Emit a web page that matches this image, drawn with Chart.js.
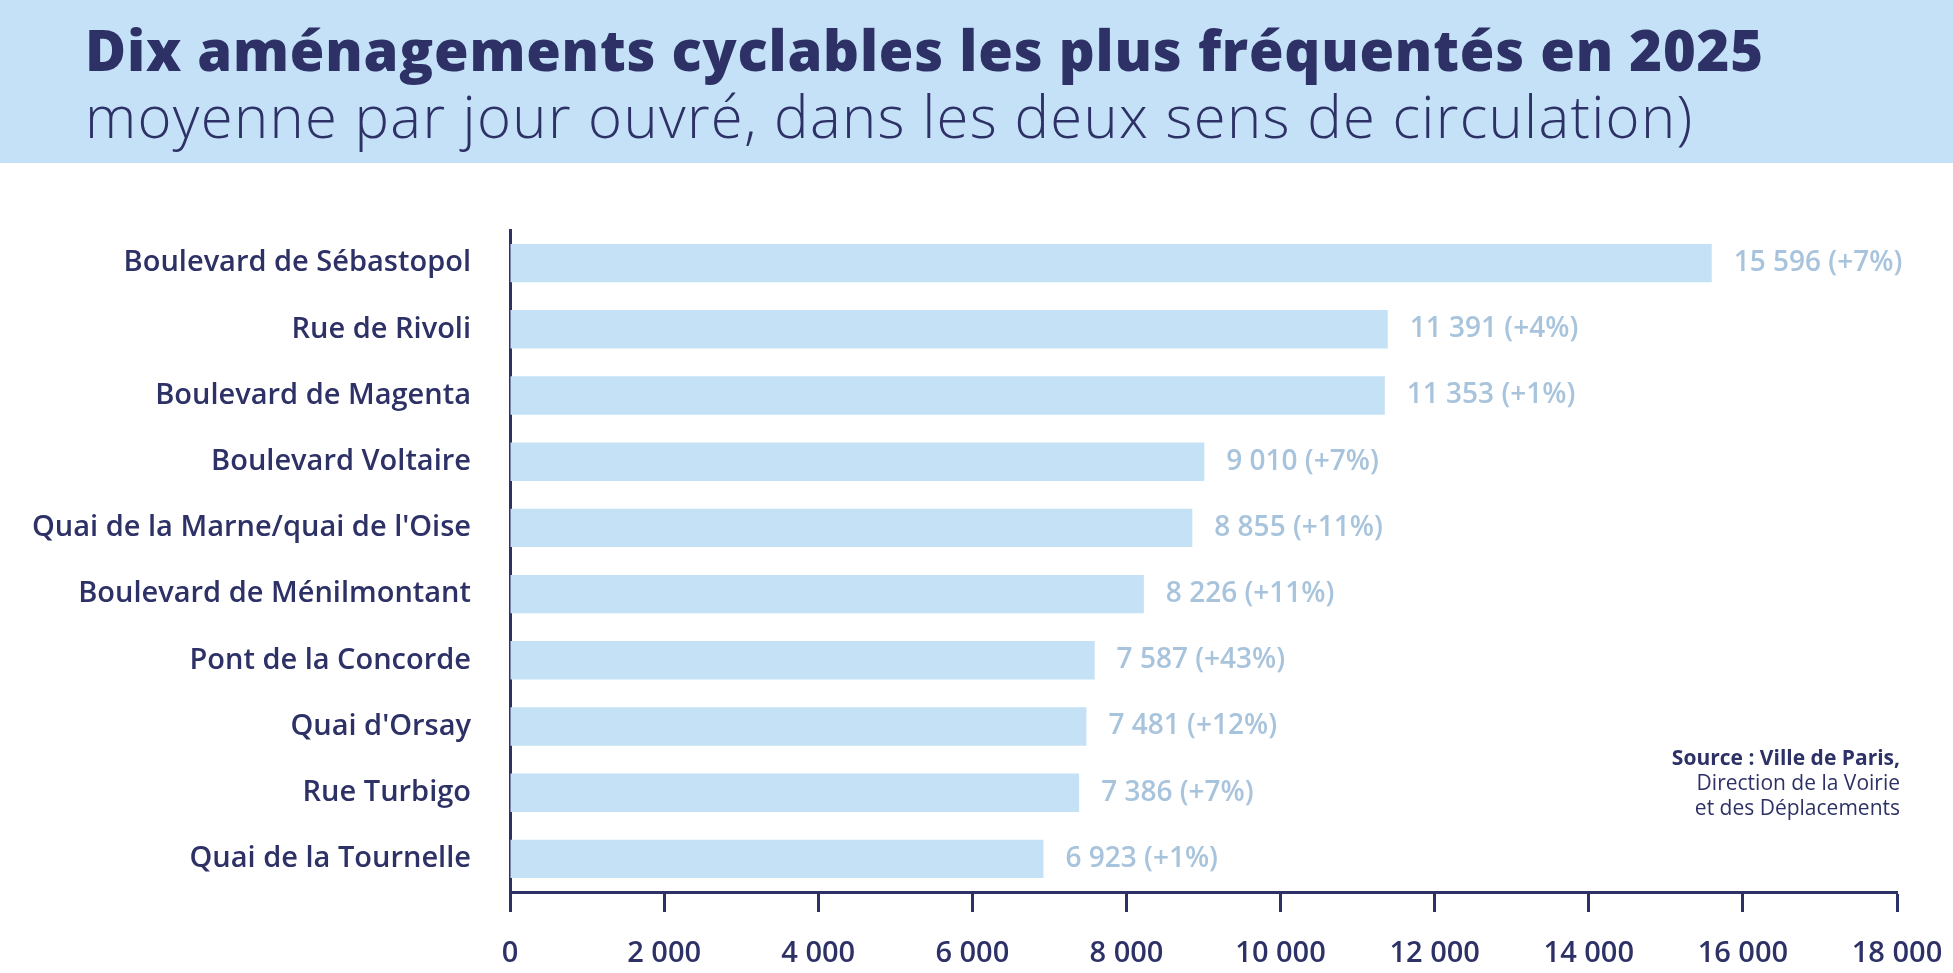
<!DOCTYPE html>
<html lang="fr">
<head>
  <meta charset="UTF-8">
  <title>Dix aménagements cyclables les plus fréquentés en 2025</title>
  <script src="https://cdn.jsdelivr.net/npm/chart.js"></script>
  <style>
    html, body { margin: 0; padding: 0; background: #fff; }
    canvas { display: block; }
  </style>
</head>
<body>

<canvas id="cyclesChart" width="1953" height="973"></canvas>

<script>
  // Données (moyenne par jour ouvré, deux sens confondus)
  const categories = [
    'Boulevard de Sébastopol',
    'Rue de Rivoli',
    'Boulevard de Magenta',
    'Boulevard Voltaire',
    "Quai de la Marne/quai de l'Oise",
    'Boulevard de Ménilmontant',
    'Pont de la Concorde',
    "Quai d'Orsay",
    'Rue Turbigo',
    'Quai de la Tournelle'
  ];
  const passages = [15596, 11391, 11353, 9010, 8855, 8226, 7587, 7481, 7386, 6923];
  const evolution = ['+7%', '+4%', '+1%', '+7%', '+11%', '+11%', '+43%', '+12%', '+7%', '+1%'];
  const xMin = 0, xMax = 18000, xStep = 2000;

  const titleText = 'Dix aménagements cyclables les plus fréquentés en 2025';
  const subtitleText = 'moyenne par jour ouvré, dans les deux sens de circulation)';
  const sourceLines = ['Source : Ville de Paris,', 'Direction de la Voirie', 'et des Déplacements'];

  const NAVY = '#2d3166';
  const BAR = '#c5e1f6';
  const LABEL = '#a8c4dc';
  const FONT = '"Open Sans", "Noto Sans", sans-serif';

  // "15596" -> "15 596"
  const fmt = v => String(v).replace(/\B(?=(\d{3})+(?!\d))/g, ' ');

  // bandeau de titre + source
  const decor = {
    id: 'decor',
    beforeDraw(chart) {
      const ctx = chart.ctx;
      ctx.save();
      ctx.fillStyle = '#c5e1f7';
      ctx.fillRect(0, 0, chart.width, 163);
      ctx.restore();
    },
    afterDraw(chart) {
      const ctx = chart.ctx;
      ctx.save();
      ctx.fillStyle = NAVY;
      ctx.textAlign = 'left';
      ctx.textBaseline = 'alphabetic';
      ctx.font = '800 56px ' + FONT;
      ctx.letterSpacing = '0.8px';
      ctx.fillText(titleText, 85, 71);
      ctx.font = '300 58px ' + FONT;
      ctx.letterSpacing = '1.3px';
      ctx.fillText(subtitleText, 85, 138);
      ctx.letterSpacing = '0px';

      ctx.textAlign = 'right';
      ctx.font = '700 21px ' + FONT;
      ctx.fillText(sourceLines[0], 1900, 765);
      ctx.font = '400 21px ' + FONT;
      ctx.fillText(sourceLines[1], 1900, 790);
      ctx.fillText(sourceLines[2], 1900, 815);
      ctx.restore();
    }
  };

  // valeurs au bout des barres
  const valueLabels = {
    id: 'valueLabels',
    afterDatasetsDraw(chart) {
      const ctx = chart.ctx;
      const meta = chart.getDatasetMeta(0);
      ctx.save();
      ctx.fillStyle = LABEL;
      ctx.font = '600 28px ' + FONT;
      ctx.textAlign = 'left';
      ctx.textBaseline = 'middle';
      meta.data.forEach((bar, i) => {
        ctx.fillText(fmt(passages[i]) + ' (' + evolution[i] + ')', bar.x + 22, bar.y);
      });
      ctx.restore();
    }
  };

  const ctx = document.getElementById('cyclesChart').getContext('2d');

  new Chart(ctx, {
    type: 'bar',
    data: {
      labels: categories,
      datasets: [{
        data: passages,
        backgroundColor: BAR,
        borderWidth: 0,
        categoryPercentage: 0.58,
        barPercentage: 1
      }]
    },
    options: {
      indexAxis: 'y',
      responsive: false,
      animation: false,
      devicePixelRatio: 1,
      layout: { padding: { top: 230, right: 56, bottom: 0, left: 0 } },
      plugins: {
        legend: { display: false },
        tooltip: { enabled: false }
      },
      scales: {
        x: {
          min: xMin,
          max: xMax,
          afterFit(scale) {
            scale.height = 81;
            scale.paddingLeft = 0;
            scale.paddingRight = 0;
          },
          ticks: {
            stepSize: xStep,
            padding: 24,
            color: NAVY,
            font: { family: FONT, size: 29, weight: '600' },
            maxRotation: 0,
            callback: v => fmt(v)
          },
          grid: {
            drawOnChartArea: false,
            drawTicks: true,
            tickLength: 20,
            tickWidth: 3,
            tickColor: NAVY
          },
          border: { display: true, color: NAVY, width: 3 }
        },
        y: {
          afterFit(scale) { scale.width = 510; },
          ticks: {
            padding: 39,
            color: NAVY,
            font: { family: FONT, size: 29, weight: '600' }
          },
          grid: { display: false, drawTicks: false },
          border: { display: true, color: NAVY, width: 3 }
        }
      }
    },
    plugins: [decor, valueLabels]
  });
</script>

</body>
</html>
